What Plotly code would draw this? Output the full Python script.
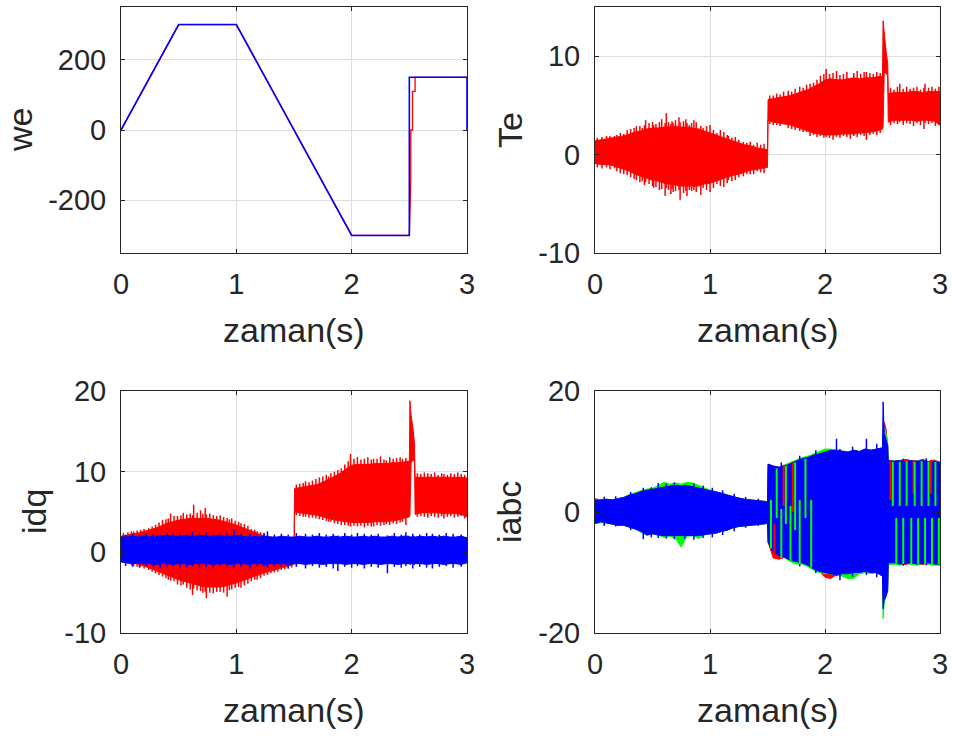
import plotly.graph_objects as go
from plotly.subplots import make_subplots

# ---------------------------------------------------------------------------
# Speed: reference command (blue) and measured speed (red), rad/s
# ---------------------------------------------------------------------------
t_we_ref = [0.0, 0.5, 1.0, 2.0, 2.5, 2.5, 3.0, 3.0]
we_ref = [0, 300, 300, -300, -300, 150, 150, 0]

t_we = [0.0, 0.5, 1.0, 2.0, 2.5, 2.513, 2.513, 2.527, 2.527, 2.55, 2.55, 3.0]
we_meas = [0, 300, 300, -300, -300, -140, 0, 0, 110, 110, 150, 150]

# ---------------------------------------------------------------------------
# Common time base for the ripple envelopes (s)
# ---------------------------------------------------------------------------
t_env = [0.0, 0.05, 0.1, 0.15, 0.2, 0.25, 0.3, 0.35, 0.4, 0.45, 0.5, 0.55, 0.6,
         0.65, 0.7, 0.75, 0.8, 0.85, 0.9, 0.95, 1.0, 1.05, 1.1, 1.15, 1.2, 1.25,
         1.3, 1.35, 1.4, 1.45, 1.5, 1.505, 1.55, 1.6, 1.65, 1.7, 1.75, 1.8, 1.85,
         1.9, 1.95, 2.0, 2.05, 2.1, 2.15, 2.2, 2.25, 2.3, 2.35, 2.4, 2.45, 2.5,
         2.505, 2.515, 2.53, 2.545, 2.55, 2.6, 2.65, 2.7, 2.75, 2.8, 2.85, 2.9,
         2.95, 3.0]

# Electromagnetic torque Te (N.m): ripple body, upper / lower envelope
te_hi = [1.4, 1.5, 1.6, 1.7, 1.8, 1.9, 2.1, 2.3, 2.4, 2.6, 2.7, 2.7, 2.8, 2.8, 2.9,
         2.8, 2.8, 2.7, 2.6, 2.4, 2.2, 2.0, 1.8, 1.6, 1.4, 1.2, 1.0, 0.9, 0.7, 0.6,
         0.5, 5.6, 5.7, 5.8, 5.9, 6.0, 6.2, 6.4, 6.6, 6.9, 7.2, 7.6, 7.7, 7.6, 7.6,
         7.7, 7.8, 7.7, 7.8, 7.8, 7.9, 8.0, 13.6, 12.3, 10.6, 9.3, 6.2, 6.3, 6.3,
         6.3, 6.4, 6.4, 6.3, 6.4, 6.4, 6.4]
te_lo = [-0.9, -1.0, -1.0, -1.1, -1.3, -1.5, -1.7, -2.0, -2.2, -2.4, -2.6, -2.7, -2.9,
         -3.0, -3.1, -3.2, -3.2, -3.2, -3.2, -3.0, -2.9, -2.7, -2.5, -2.3, -2.1, -2.0,
         -1.8, -1.6, -1.5, -1.4, -1.3, 3.5, 3.3, 3.2, 3.1, 3.0, 2.8, 2.6, 2.4, 2.2,
         2.1, 2.0, 2.0, 2.0, 2.1, 2.1, 2.1, 2.2, 2.2, 2.3, 2.4, 2.6, 2.8, 8.3, 8.3,
         8.0, 3.3, 3.5, 3.5, 3.5, 3.5, 3.4, 3.5, 3.5, 3.4, 3.0]
# Te ripple strokes: time, top, bottom
te_stk_t = [0.02, 0.06, 0.10, 0.13, 0.17, 0.19, 0.22, 0.25, 0.28, 0.31, 0.34, 0.36,
            0.39, 0.41, 0.43, 0.44, 0.47, 0.50, 0.51, 0.53, 0.56, 0.58, 0.61, 0.62,
            0.64, 0.66, 0.67, 0.68, 0.70, 0.73, 0.74, 0.77, 0.79, 0.80, 0.82, 0.84,
            0.86, 0.88, 0.92, 0.94, 0.97, 1.00, 1.03, 1.06, 1.09, 1.12, 1.15, 1.16,
            1.19, 1.22, 1.25, 1.29, 1.32, 1.35, 1.38, 1.41, 1.44, 1.47,
            1.52, 1.55, 1.58, 1.61, 1.64, 1.68, 1.71, 1.74, 1.78, 1.81, 1.84, 1.87,
            1.90, 1.93, 1.96, 1.99, 2.01, 2.04, 2.07, 2.10, 2.13, 2.16, 2.19, 2.22,
            2.25, 2.28, 2.31, 2.34, 2.36, 2.39, 2.42, 2.45, 2.48,
            2.57, 2.60, 2.63, 2.65, 2.68, 2.71, 2.74, 2.77, 2.80, 2.83, 2.86, 2.87,
            2.90, 2.93, 2.96, 2.99]
te_stk_top = [1.7, 1.8, 1.9, 1.9, 1.9, 2.0, 2.2, 2.1, 2.5, 2.6, 2.7, 2.9, 2.9, 2.7,
              3.0, 3.5, 3.2, 3.3, 3.0, 3.1, 3.3, 3.6, 3.2, 4.2, 3.3, 3.1, 3.4, 3.2,
              3.5, 3.8, 3.3, 3.4, 3.6, 3.2, 3.0, 3.2, 3.5, 3.3, 2.9, 2.7, 2.9, 3.0,
              2.5, 2.2, 2.5, 2.3, 2.0, 1.9, 1.7, 1.8, 1.5, 1.3, 1.2, 1.3, 1.0, 1.2,
              1.0, 1.1,
              6.0, 6.0, 6.2, 6.1, 6.4, 6.5, 6.4, 6.7, 6.9, 6.8, 7.1, 7.2, 7.3, 7.6,
              8.0, 8.2, 8.7, 8.2, 8.3, 8.5, 8.1, 8.2, 8.4, 7.5, 8.3, 8.5, 8.2, 8.4,
              8.4, 8.3, 8.2, 8.4, 8.3,
              6.8, 6.6, 6.9, 7.2, 6.7, 6.9, 6.7, 6.8, 6.9, 6.6, 6.8, 7.2, 6.8, 6.9,
              6.7, 6.9]
te_stk_bot = [-1.3, -1.4, -1.3, -1.5, -1.4, -1.7, -1.9, -2.0, -2.1, -2.3, -2.5, -2.6,
              -2.8, -2.7, -3.1, -2.8, -3.0, -3.2, -3.4, -3.3, -3.6, -3.5, -4.2, -3.4,
              -3.6, -4.0, -3.5, -3.8, -3.7, -3.6, -4.6, -3.9, -3.7, -4.2, -3.6, -3.7,
              -3.6, -3.8, -4.1, -3.4, -3.6, -3.8, -3.4, -3.0, -3.2, -3.3, -2.9, -2.6,
              -2.7, -2.6, -2.3, -2.2, -2.0, -2.0, -2.0, -1.7, -1.8, -1.9,
              3.1, 3.0, 3.0, 2.9, 3.1, 2.7, 2.6, 2.5, 2.4, 2.3, 2.3, 1.9, 2.0, 1.8,
              1.9, 1.7, 1.8, 1.7, 1.5, 1.8, 1.7, 1.9, 1.8, 1.6, 1.9, 1.8, 2.0, 1.9,
              1.5, 2.0, 2.1, 2.0, 2.2,
              3.0, 3.2, 3.1, 3.3, 3.0, 3.2, 3.1, 2.9, 3.2, 3.0, 2.6, 3.2, 3.1, 3.2,
              2.9, 3.0]

# q-axis current (red): ripple body envelope, A
iq_hi = [2.0, 2.1, 2.3, 2.4, 2.6, 2.8, 3.0, 3.3, 3.6, 3.8, 4.0, 4.1, 4.2, 4.2, 4.2,
         4.2, 4.1, 4.0, 3.8, 3.6, 3.4, 3.1, 2.8, 2.5, 2.2, 1.9, 1.7, 1.5, 1.4, 1.3,
         1.2, 7.9, 8.0, 8.1, 8.2, 8.4, 8.7, 9.0, 9.4, 9.8, 10.3, 10.8, 10.9, 10.9,
         10.9, 11.0, 11.0, 11.0, 11.1, 11.1, 11.2, 11.3, 18.8, 17.0, 15.6, 13.5, 9.3,
         9.3, 9.3, 9.3, 9.3, 9.3, 9.3, 9.3, 9.3, 9.2]
iq_lo = [-0.9, -1.1, -1.3, -1.5, -1.7, -1.9, -2.2, -2.5, -2.8, -3.1, -3.4, -3.6, -3.8,
         -4.0, -4.2, -4.3, -4.3, -4.3, -4.2, -4.0, -3.8, -3.6, -3.3, -3.0, -2.8, -2.5,
         -2.3, -2.1, -1.9, -1.7, -1.5, 5.0, 4.9, 4.8, 4.7, 4.6, 4.4, 4.2, 4.0, 3.9,
         3.8, 3.7, 3.7, 3.7, 3.7, 3.8, 3.8, 3.8, 3.9, 4.0, 4.2, 4.4, 4.5, 11.0, 11.5,
         11.2, 4.7, 4.9, 4.9, 4.9, 4.9, 4.8, 4.8, 4.8, 4.7, 4.4]
iq_stk_t = [0.02, 0.06, 0.09, 0.11, 0.14, 0.17, 0.20, 0.24, 0.27, 0.30, 0.33, 0.36,
            0.39, 0.41, 0.43, 0.46, 0.49, 0.52, 0.54, 0.57, 0.60, 0.62, 0.63, 0.66,
            0.69, 0.71, 0.73, 0.74, 0.77, 0.80, 0.83, 0.86, 0.89, 0.92, 0.94, 0.96,
            0.99, 1.02, 1.04, 1.07, 1.10, 1.13, 1.16, 1.18, 1.21, 1.24, 1.27, 1.30,
            1.33, 1.36, 1.39, 1.42, 1.45, 1.48,
            1.52, 1.55, 1.58, 1.60, 1.63, 1.66, 1.69, 1.72, 1.75, 1.78, 1.80, 1.82,
            1.85, 1.88, 1.91, 1.94, 1.97, 1.99, 2.02, 2.05, 2.08, 2.11, 2.14, 2.17,
            2.19, 2.22, 2.25, 2.28, 2.30, 2.33, 2.36, 2.39, 2.42, 2.44, 2.47,
            2.57, 2.60, 2.63, 2.66, 2.69, 2.72, 2.75, 2.78, 2.80, 2.83, 2.86, 2.89,
            2.92, 2.95, 2.98]
iq_stk_top = [2.4, 2.5, 2.6, 2.6, 2.7, 2.8, 2.9, 3.0, 3.2, 3.4, 3.7, 4.0, 4.1, 4.2,
              4.8, 4.5, 4.5, 4.6, 4.9, 4.7, 4.8, 4.6, 5.9, 4.9, 5.2, 4.8, 5.5, 4.7,
              4.8, 4.6, 4.5, 4.6, 4.4, 4.3, 4.1, 4.2, 3.9, 3.8, 3.6, 3.5, 3.3, 2.9,
              2.8, 2.6, 2.5, 2.3, 2.1, 2.0, 1.9, 1.8, 1.7, 1.7, 1.6, 1.5,
              8.4, 8.5, 8.6, 8.8, 8.7, 8.9, 9.1, 9.3, 9.4, 9.6, 9.4, 9.8, 10.0, 10.2,
              10.4, 10.9, 11.3, 12.2, 11.6, 11.8, 11.5, 11.6, 11.8, 11.5, 11.6, 11.6,
              11.9, 11.5, 11.4, 11.8, 11.6, 11.7, 11.8, 11.6, 11.7,
              9.8, 9.7, 9.9, 9.8, 9.7, 9.9, 9.6, 9.8, 9.7, 9.6, 9.8, 9.7, 9.9, 9.7,
              9.6]
iq_stk_bot = [-1.2, -1.4, -1.6, -1.7, -1.8, -1.8, -2.0, -2.2, -2.4, -2.6, -2.8, -3.0,
              -3.2, -3.4, -3.5, -3.6, -4.0, -4.1, -4.0, -4.4, -4.6, -5.3, -4.5, -4.7,
              -4.8, -5.0, -4.9, -5.7, -5.0, -5.1, -4.9, -4.9, -5.0, -5.5, -4.7, -4.6,
              -4.4, -4.3, -4.4, -4.1, -3.9, -3.6, -3.4, -3.4, -3.2, -2.9, -2.8, -2.6,
              -2.5, -2.4, -2.2, -2.1, -2.0, -1.9,
              4.6, 4.5, 4.4, 4.4, 4.3, 4.3, 4.2, 4.1, 4.0, 3.9, 3.8, 3.8, 3.6, 3.5,
              3.4, 3.4, 3.3, 3.2, 3.3, 3.2, 3.3, 3.1, 3.3, 3.2, 3.2, 3.4, 3.3, 3.4,
              3.5, 3.4, 3.6, 3.5, 3.7, 3.8, 3.4,
              4.4, 4.5, 4.4, 4.3, 4.5, 4.4, 4.3, 4.5, 4.2, 4.4, 4.5, 4.3, 4.4, 4.5,
              4.2]

# d-axis current (blue): ripple body envelope, A
id_hi = [1.9, 1.9, 2.0, 1.9, 2.0, 1.9, 2.0, 2.0, 2.1, 2.0, 2.0, 2.1, 2.0, 2.0, 2.1,
         2.0, 2.0, 2.1, 2.0, 2.0, 2.1, 2.0, 1.9, 2.0, 1.9, 2.0, 1.9, 1.9, 2.0, 1.9,
         1.9, 1.9, 2.0, 1.9, 1.9, 2.0, 1.9, 1.9, 2.0, 1.9, 2.0, 1.9, 1.9, 2.0, 1.9,
         2.0, 1.9, 1.9, 2.0, 1.9, 2.0, 2.0, 1.9, 1.9, 2.0, 1.9, 1.9, 2.0, 1.9, 2.0,
         1.9, 2.0, 1.9, 1.9, 2.0, 1.8]
id_lo = [-1.2, -1.3, -1.4, -1.3, -1.4, -1.4, -1.5, -1.4, -1.4, -1.5, -1.4, -1.4, -1.5,
         -1.4, -1.4, -1.4, -1.5, -1.4, -1.4, -1.5, -1.4, -1.4, -1.5, -1.4, -1.4, -1.5,
         -1.4, -1.4, -1.4, -1.5, -1.4, -1.4, -1.4, -1.5, -1.4, -1.4, -1.5, -1.4, -1.4,
         -1.4, -1.5, -1.4, -1.4, -1.5, -1.4, -1.4, -1.5, -1.4, -1.4, -1.5, -1.4, -1.4,
         -1.5, -1.4, -1.4, -1.5, -1.4, -1.4, -1.5, -1.4, -1.4, -1.5, -1.4, -1.4, -1.5,
         -1.3]
id_stk_t = [0.04, 0.10, 0.16, 0.22, 0.28, 0.34, 0.40, 0.45, 0.51, 0.57, 0.62, 0.68,
            0.74, 0.80, 0.86, 0.92, 0.98, 1.04, 1.12, 1.18, 1.24, 1.27, 1.33, 1.39,
            1.45, 1.52, 1.60, 1.66, 1.72, 1.78, 1.84, 1.88, 1.94, 2.00, 2.05, 2.11,
            2.17, 2.23, 2.31, 2.37, 2.43, 2.47, 2.53, 2.59, 2.65, 2.70, 2.76, 2.82,
            2.88, 2.95]
id_stk_top = [2.2, 2.3, 2.2, 2.4, 2.3, 2.2, 2.4, 2.4, 2.3, 2.2, 2.5, 2.3, 2.4, 2.2,
              2.3, 2.4, 2.8, 2.3, 2.3, 2.2, 2.4, 2.6, 2.2, 2.3, 2.2, 2.4, 2.3, 2.2,
              2.4, 2.2, 2.3, 2.1, 2.4, 2.2, 2.4, 2.3, 2.2, 2.3, 2.1, 2.4, 2.2, 2.5,
              2.3, 2.2, 2.4, 2.3, 2.2, 2.4, 2.3, 2.2]
id_stk_bot = [-1.7, -1.8, -1.9, -1.7, -1.8, -2.0, -1.8, -1.7, -1.9, -1.8, -1.7, -1.9,
              -1.8, -2.0, -1.7, -1.8, -1.9, -1.8, -2.0, -1.7, -1.8, -1.9, -1.7, -1.8,
              -2.0, -1.8, -2.0, -1.7, -1.9, -1.8, -2.0, -2.3, -1.8, -1.9, -1.7, -2.0,
              -1.8, -1.9, -2.6, -1.8, -1.9, -1.7, -2.0, -1.8, -1.9, -2.0, -1.8, -1.7,
              -1.9, -1.8]

# Phase currents ia (red), ib (green), ic (blue): ripple envelopes, A
ia_hi = [2.2, 2.0, 2.1, 2.0, 2.2, 2.4, 2.8, 3.0, 3.4, 3.6, 3.7, 4.0, 4.1, 4.3, 4.4,
         4.3, 4.4, 4.2, 4.0, 3.8, 3.6, 3.4, 3.1, 2.8, 2.5, 2.3, 2.1, 2.0, 1.9, 1.8,
         1.7, 7.9, 7.6, 7.4, 7.6, 8.0, 8.4, 8.8, 9.0, 9.4, 9.6, 9.9, 10.2, 10.2, 10.0,
         9.9, 10.2, 10.0, 10.4, 10.2, 10.4, 10.6, 12.0, 14.8, 13.8, 11.0, 8.5, 8.4,
         8.5, 8.7, 8.5, 8.4, 8.7, 8.3, 8.6, 8.2]
ia_lo = [-1.9, -1.6, -1.8, -2.0, -2.2, -2.2, -2.5, -2.8, -3.2, -3.8, -3.6, -3.8, -3.9,
         -3.9, -3.9, -4.0, -3.9, -3.9, -3.9, -3.8, -3.6, -3.5, -3.2, -3.0, -2.6, -2.4,
         -2.2, -2.1, -2.1, -2.0, -1.9, -5.0, -7.6, -7.8, -7.5, -8.0, -8.2, -8.4, -8.8,
         -9.4, -9.8, -10.8, -11.0, -10.4, -10.2, -10.2, -10.0, -10.0, -9.8, -10.0,
         -10.0, -10.6, -15.0, -14.0, -13.5, -12.5, -8.4, -8.6, -8.6, -8.7, -8.4, -8.6,
         -8.7, -8.4, -8.6, -8.6]
ib_hi = [1.9, 2.0, 2.1, 2.0, 2.2, 2.4, 2.9, 3.2, 3.6, 3.8, 3.9, 4.4, 4.9, 4.6, 4.8,
         4.6, 4.9, 4.8, 4.4, 4.0, 3.6, 3.4, 3.1, 2.8, 2.5, 2.3, 2.1, 2.0, 1.9, 1.8,
         1.7, 7.6, 7.4, 7.4, 7.8, 8.2, 8.6, 9.0, 9.2, 9.6, 10.0, 10.4, 10.4, 10.2, 10.0,
         9.9, 10.2, 10.0, 10.4, 10.2, 10.4, 10.6, 12.0, 14.0, 13.0, 11.5, 8.3, 8.4,
         8.5, 8.3, 8.5, 8.4, 8.5, 8.3, 8.4, 8.2]
ib_lo = [-1.9, -1.8, -1.8, -2.0, -2.2, -2.2, -2.5, -2.8, -3.4, -3.8, -3.6, -3.8, -4.2,
         -4.0, -4.4, -5.8, -4.0, -3.9, -4.4, -3.8, -3.6, -3.5, -3.2, -3.0, -2.6, -2.4,
         -2.2, -2.1, -2.1, -2.0, -1.9, -5.0, -6.4, -7.0, -7.6, -8.2, -8.6, -8.6, -9.0,
         -9.6, -10.0, -10.2, -10.2, -10.4, -10.6, -11.0, -11.0, -10.2, -10.0, -10.2,
         -10.0, -10.6, -17.6, -15.0, -14.0, -13.0, -8.8, -8.6, -8.8, -8.5, -8.6, -8.8,
         -8.5, -8.6, -8.8, -8.8]
ic_hi = [1.9, 2.0, 2.1, 2.0, 2.2, 2.4, 2.8, 3.0, 3.4, 3.6, 3.7, 4.0, 4.1, 4.3, 4.4,
         4.3, 4.4, 4.2, 4.0, 3.8, 3.6, 3.4, 3.1, 2.8, 2.5, 2.3, 2.1, 2.0, 1.9, 1.8,
         1.7, 7.9, 7.6, 7.4, 7.6, 8.0, 8.4, 8.8, 9.0, 9.4, 9.6, 9.9, 10.2, 10.2, 10.0,
         9.9, 10.2, 10.0, 10.4, 10.2, 10.4, 10.6, 18.2, 13.0, 12.0, 11.0, 8.5, 8.4,
         8.5, 8.3, 8.5, 8.4, 8.5, 8.3, 8.4, 8.2]
ic_lo = [-1.9, -1.6, -1.8, -2.0, -2.2, -2.2, -2.5, -2.8, -3.2, -3.8, -3.6, -3.8, -3.9,
         -3.9, -3.9, -4.0, -3.9, -3.9, -3.9, -3.8, -3.6, -3.5, -3.2, -3.0, -2.6, -2.4,
         -2.2, -2.1, -2.1, -2.0, -1.9, -5.0, -6.6, -7.2, -7.5, -8.0, -8.2, -8.4, -8.8,
         -9.4, -9.8, -10.0, -10.2, -10.4, -10.2, -10.2, -10.0, -10.0, -9.8, -10.0,
         -10.0, -10.6, -16.0, -14.5, -14.0, -13.0, -8.4, -8.4, -8.6, -8.5, -8.4, -8.6,
         -8.5, -8.4, -8.6, -8.6]
# ic ripple strokes (time, top, bottom)
ic_stk_t = [0.08, 0.18, 0.31, 0.42, 0.49, 0.55, 0.62, 0.69, 0.78, 0.86, 0.94, 1.02,
            1.11, 1.21, 1.31, 1.42, 1.62, 1.78, 1.92, 2.10, 2.13, 2.24, 2.36, 2.45,
            2.68, 2.88]
ic_stk_top = [2.5, 2.6, 3.3, 4.0, 4.1, 4.8, 4.7, 4.9, 4.5, 4.7, 4.4, 4.0, 3.6, 3.0,
              2.5, 2.2, 8.2, 9.3, 10.2, 12.1, 10.4, 10.8, 12.1, 11.3, 8.8, 8.9]
ic_stk_bot = [-2.3, -2.4, -3.0, -4.5, -4.2, -4.3, -4.4, -4.5, -4.4, -4.6, -4.3, -4.2,
              -3.8, -3.2, -2.6, -2.3, -7.6, -9.0, -10.1, -10.6, -11.3, -10.7, -10.4,
              -10.8, -8.9, -8.8]
# ib switching strokes visible through the ic band (time, top, bottom)
ib_stk_t = [1.53, 1.58, 1.62, 1.66, 1.70, 1.74, 1.78, 1.83, 1.88, 2.59, 2.62, 2.65,
            2.68, 2.71, 2.75, 2.78, 2.81, 2.84, 2.87, 2.90, 2.93, 2.96, 2.99]
ib_stk_top = [2.0, 7.2, 0.5, 7.6, 1.0, 8.2, 2.0, 8.8, 2.0, 8.3, -1.0, 8.3, -1.0, 8.4,
              -1.0, 8.3, -1.0, 8.4, -1.0, 8.3, -1.0, 8.3, -1.0]
ib_stk_bot = [-6.0, -1.0, -7.6, -2.0, -8.2, -3.0, -8.6, -1.0, -9.2, 1.0, -8.6, 1.0,
              -8.6, 1.0, -8.6, 1.0, -8.6, 1.0, -8.6, 1.0, -8.6, 1.0, -8.6]
ia_stk_t = [1.56, 1.64, 1.72, 2.57, 2.77, 2.92]
ia_stk_top = [-2.0, 7.8, 8.2, 8.5, 8.6, 8.6]
ia_stk_bot = [-7.6, 1.0, 0.0, 2.0, 3.0, 3.0]

x_ticks = [0, 1, 2, 3]
panels = [
    # (row, col, y label, y range, y ticks, y tick text)
    (1, 1, "we", [-350, 350], [-200, 0, 200], ["-200", "0", "200"]),
    (1, 2, "Te", [-10, 15], [-10, 0, 10], ["-10", "0", "10"]),
    (2, 1, "idq", [-10, 20], [-10, 0, 10, 20], ["-10", "0", "10", "20"]),
    (2, 2, "iabc", [-20, 20], [-20, 0, 20], ["-20", "0", "20"]),
]

RED, GREEN, BLUE = "#ff0000", "#00ff00", "#0000ff"
INK = "#262626"
FONT = "Liberation Sans, Arial, sans-serif"
W, H = 955, 736


def band(t, hi, lo, color, row, col):
    """Filled ripple band between an upper and a lower envelope."""
    xs = list(t) + list(t)[::-1]
    ys = list(hi) + list(lo)[::-1]
    fig.add_trace(go.Scatter(x=xs, y=ys, mode="lines", fill="toself",
                             fillcolor=color, line=dict(color=color, width=1),
                             hoverinfo="skip", showlegend=False),
                  row=row, col=col)


def strokes(t, top, bot, color, row, col, width=1.5):
    """Vertical ripple strokes, one segment per sample."""
    xs, ys = [], []
    for ti, a, b in zip(t, top, bot):
        xs += [ti, ti, None]
        ys += [b, a, None]
    fig.add_trace(go.Scatter(x=xs, y=ys, mode="lines",
                             line=dict(color=color, width=width),
                             hoverinfo="skip", showlegend=False),
                  row=row, col=col)


fig = make_subplots(rows=2, cols=2)

# Speed panel
fig.add_trace(go.Scatter(x=t_we, y=we_meas, mode="lines",
                         line=dict(color=RED, width=1.3), showlegend=False), row=1, col=1)
fig.add_trace(go.Scatter(x=t_we_ref, y=we_ref, mode="lines",
                         line=dict(color=BLUE, width=1.6), showlegend=False), row=1, col=1)

# Torque panel
band(t_env, te_hi, te_lo, RED, 1, 2)
strokes(te_stk_t, te_stk_top, te_stk_bot, RED, 1, 2)

# dq currents panel
band(t_env, iq_hi, iq_lo, RED, 2, 1)
strokes(iq_stk_t, iq_stk_top, iq_stk_bot, RED, 2, 1)
band(t_env, id_hi, id_lo, BLUE, 2, 1)
strokes(id_stk_t, id_stk_top, id_stk_bot, BLUE, 2, 1)

# Phase currents panel
band(t_env, ia_hi, ia_lo, RED, 2, 2)
band(t_env, ib_hi, ib_lo, GREEN, 2, 2)
band(t_env, ic_hi, ic_lo, BLUE, 2, 2)
strokes(ic_stk_t, ic_stk_top, ic_stk_bot, BLUE, 2, 2)
strokes(ia_stk_t, ia_stk_top, ia_stk_bot, RED, 2, 2, width=2)
strokes(ib_stk_t, ib_stk_top, ib_stk_bot, GREEN, 2, 2, width=2)

# Axes boxes in pixels: (left, right, top, bottom)
boxes = {(1, 1): (121, 467, 7, 253), (1, 2): (595, 940, 7, 253),
         (2, 1): (121, 467, 391, 633), (2, 2): (595, 940, 391, 633)}

axis_common = dict(showline=True, linecolor=INK, linewidth=1, mirror="ticks",
                   ticks="inside", ticklen=4, tickcolor=INK, tickwidth=1,
                   showgrid=True, gridcolor="#dedede", gridwidth=1, zeroline=False,
                   automargin=False,
                   tickfont=dict(family=FONT, size=29, color=INK))

annotations = []
for row, col, ylab, yr, yt, ytt in panels:
    l, r, t, b = boxes[(row, col)]
    fig.update_xaxes(domain=[l / W, r / W], range=[0, 3], tickvals=x_ticks,
                     ticktext=[str(v) for v in x_ticks],
                     ticklabelstandoff=5, row=row, col=col, **axis_common)
    fig.update_yaxes(domain=[1 - b / H, 1 - t / H], range=yr, tickvals=yt,
                     ticktext=ytt, ticklabelstandoff=8, row=row, col=col,
                     **axis_common)
    annotations.append(dict(text="zaman(s)", x=(l + r) / 2 / W, y=1 - (b + 77) / H,
                            xref="paper", yref="paper", showarrow=False,
                            xanchor="center", yanchor="middle",
                            font=dict(family=FONT, size=34, color=INK)))

ylab_pos = {"we": 20, "Te": 510, "idq": 34, "iabc": 509}
for row, col, ylab, yr, yt, ytt in panels:
    l, r, t, b = boxes[(row, col)]
    annotations.append(dict(text=ylab, x=ylab_pos[ylab] / W, y=1 - (t + b) / 2 / H,
                            xref="paper", yref="paper", showarrow=False, textangle=-90,
                            xanchor="center", yanchor="middle",
                            font=dict(family=FONT, size=34, color=INK)))

fig.update_layout(width=W, height=H, margin=dict(l=0, r=0, t=0, b=0),
                  paper_bgcolor="white", plot_bgcolor="white",
                  showlegend=False, annotations=annotations)

fig.write_html("out.html")
